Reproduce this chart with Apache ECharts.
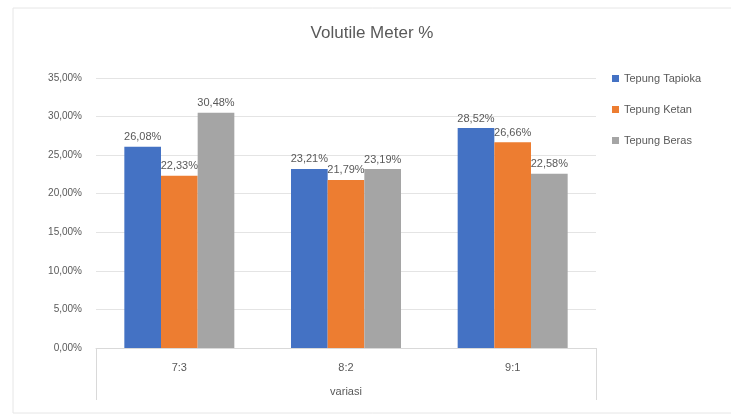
<!DOCTYPE html>
<html>
<head>
<meta charset="utf-8">
<script src="https://cdn.jsdelivr.net/npm/echarts@6/dist/echarts.min.js"></script>
<style>
  html, body { margin: 0; padding: 0; background: #fff; }
  #chart { width: 731px; height: 418px; }
</style>
</head>
<body>
<div id="chart"></div>
<script>
// Volatile matter (%) per flour variant and mix ratio
const categories = ['7:3', '8:2', '9:1'];
const tapioka = [26.08, 23.21, 28.52];
const ketan = [22.33, 21.79, 26.66];
const beras = [30.48, 23.19, 22.58];
const seriesNames = ['Tepung Tapioka', 'Tepung Ketan', 'Tepung Beras'];
const colors = ['#4472C4', '#ED7D31', '#A5A5A5'];

const fmt = v => v.toFixed(2).replace('.', ',') + '%';
const textColor = '#595959';
const fontFamily = 'Liberation Sans, Arial, sans-serif';

const chart = echarts.init(document.getElementById('chart'));

const makeSeries = (name, data, color) => ({
  name: name,
  type: 'bar',
  data: data,
  barGap: '0%',
  barCategoryGap: '34%',
  itemStyle: { color: color },
  label: {
    show: true,
    position: 'top',
    distance: 4,
    formatter: p => fmt(p.value),
    color: textColor,
    fontSize: 11,
    fontFamily: fontFamily
  }
});

chart.setOption({
  animation: false,
  backgroundColor: '#fff',
  color: colors,
  // chart-area frame
  graphic: [{
    type: 'rect',
    z: -1,
    shape: { x: 13, y: 8, width: 730, height: 405 },
    style: { fill: 'none', stroke: '#E6E6E6', lineWidth: 1 }
  }],
  title: {
    text: 'Volutile Meter %',
    left: 367,
    top: 20,
    textAlign: 'center',
    textStyle: { color: textColor, fontSize: 17, fontWeight: 'normal', fontFamily: fontFamily }
  },
  legend: {
    orient: 'vertical',
    left: 607,
    top: 68,
    itemGap: 20,
    itemWidth: 7,
    itemHeight: 7,
    icon: 'rect',
    textStyle: { color: textColor, fontSize: 11, fontFamily: fontFamily },
    data: seriesNames
  },
  grid: { left: 96, right: 135, top: 78, bottom: 70 },
  xAxis: {
    type: 'category',
    data: categories,
    name: 'variasi',
    nameLocation: 'middle',
    nameGap: 38,
    nameTextStyle: { color: textColor, fontSize: 11, fontFamily: fontFamily },
    axisLine: { lineStyle: { color: '#D9D9D9' } },
    axisTick: {
      show: true,
      length: 52,
      interval: (i) => i === 0 || i === categories.length,
      lineStyle: { color: '#D9D9D9' }
    },
    axisLabel: { color: textColor, fontSize: 11, margin: 14, fontFamily: fontFamily }
  },
  yAxis: {
    type: 'value',
    min: 0,
    max: 35,
    interval: 5,
    axisLine: { show: false },
    axisTick: { show: false },
    splitLine: { lineStyle: { color: '#E4E4E4' } },
    axisLabel: {
      color: textColor,
      fontSize: 10,
      margin: 14,
      fontFamily: fontFamily,
      formatter: v => fmt(v)
    }
  },
  series: [
    makeSeries(seriesNames[0], tapioka, colors[0]),
    makeSeries(seriesNames[1], ketan, colors[1]),
    makeSeries(seriesNames[2], beras, colors[2])
  ]
});
</script>
</body>
</html>
